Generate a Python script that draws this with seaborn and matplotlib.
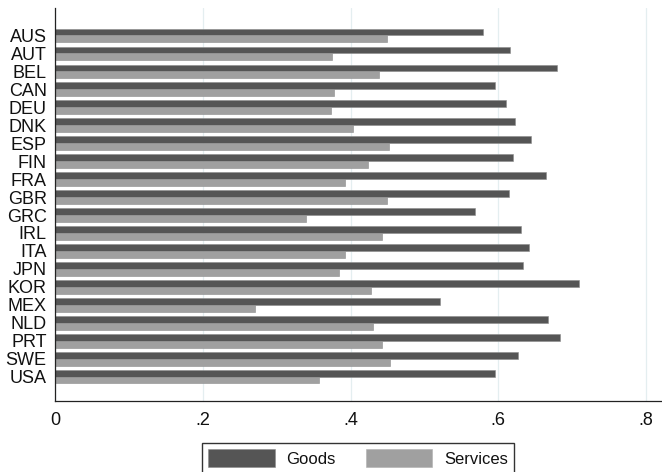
import matplotlib
matplotlib.use("Agg")
import matplotlib.pyplot as plt
import seaborn as sns
import pandas as pd

countries = ["AUS", "AUT", "BEL", "CAN", "DEU", "DNK", "ESP", "FIN", "FRA", "GBR",
             "GRC", "IRL", "ITA", "JPN", "KOR", "MEX", "NLD", "PRT", "SWE", "USA"]
goods = [0.580, 0.616, 0.679, 0.596, 0.610, 0.623, 0.644, 0.620, 0.664, 0.614,
         0.569, 0.631, 0.641, 0.634, 0.709, 0.521, 0.668, 0.683, 0.627, 0.596]
services = [0.449, 0.375, 0.439, 0.377, 0.374, 0.404, 0.452, 0.424, 0.393, 0.450,
            0.340, 0.443, 0.393, 0.384, 0.428, 0.271, 0.430, 0.442, 0.453, 0.357]
series_names = ["Goods", "Services"]
x_ticks = [0, 0.2, 0.4, 0.6, 0.8]
x_tick_labels = ["0", ".2", ".4", ".6", ".8"]

df = pd.DataFrame({
    "country": countries * 2,
    "share": goods + services,
    "sector": [series_names[0]] * len(countries) + [series_names[1]] * len(countries),
})

sns.set_style("white")
plt.rcParams["font.family"] = ["Liberation Sans", "DejaVu Sans"]
plt.rcParams["text.color"] = "#111111"
plt.rcParams["xtick.color"] = "#111111"
plt.rcParams["ytick.color"] = "#111111"

fig = plt.figure(figsize=(6.62, 4.72), dpi=100)
ax = fig.add_axes([55 / 662, 1 - 401 / 472, (661 - 55) / 662, (401 - 8) / 472])

sns.barplot(data=df, y="country", x="share", hue="sector", orient="h",
            order=countries, hue_order=series_names,
            palette=["#555555", "#a0a0a0"], width=0.75, saturation=1,
            edgecolor="#8c8c8c", linewidth=0.4, ax=ax, legend=False)

ax.set_xlim(0, (661 - 55) / 738.75)
ax.set_ylim(20.35, -1.52)
ax.set_xticks(x_ticks)
ax.set_xticklabels(x_tick_labels, fontsize=13)
ax.tick_params(axis="x", direction="out", length=5, width=0.9, color="#222222", pad=3)
ax.tick_params(axis="y", length=0, pad=6, labelsize=13)
ax.set_xlabel("")
ax.set_ylabel("")
ax.xaxis.grid(True, color="#e4eef0", linewidth=0.9)
ax.yaxis.grid(False)
ax.set_axisbelow(True)
for side in ("top", "right"):
    ax.spines[side].set_visible(False)
for side in ("left", "bottom"):
    ax.spines[side].set_color("#222222")
    ax.spines[side].set_linewidth(0.9)

handles = [plt.Rectangle((0, 0), 1, 1, facecolor="#555555", edgecolor="#8c8c8c", linewidth=0.4),
           plt.Rectangle((0, 0), 1, 1, facecolor="#a0a0a0", edgecolor="#b0b0b0", linewidth=0.4)]
fig.legend(handles, series_names, loc="upper center",
           bbox_to_anchor=(358 / 662, 1 - 443 / 472), ncol=2, fontsize=12,
           frameon=True, fancybox=False, edgecolor="#333333", framealpha=1,
           handlelength=4.0, handleheight=1.3, handletextpad=0.7,
           columnspacing=1.8, borderpad=0.35, borderaxespad=0)

fig.savefig("out.png", dpi=100)
